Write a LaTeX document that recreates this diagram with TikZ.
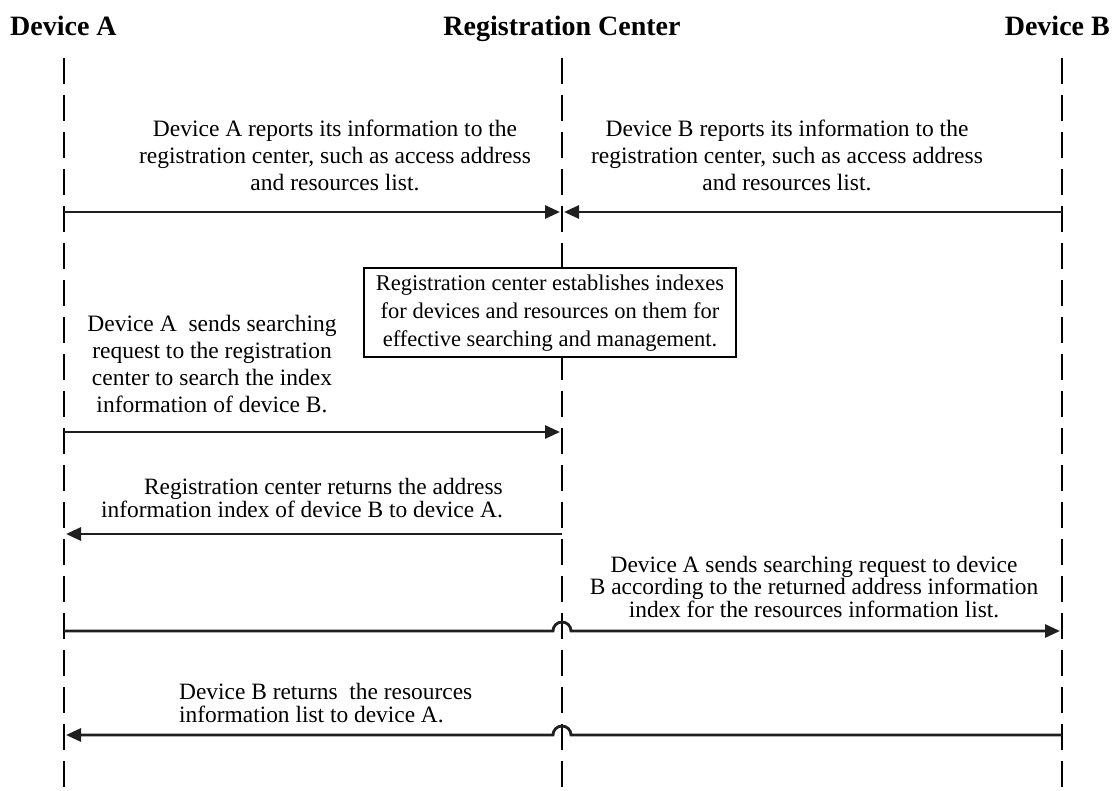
\documentclass[tikz,border=0pt]{standalone}
\usepackage{fontspec}
\setmainfont{Liberation Serif}
\usetikzlibrary{arrows.meta}
\tikzset{
  lifeline/.style={line width=2.2pt, dash pattern=on 26pt off 11pt},
  msg/.style={line width=2.8pt, black!88},
  msgtip/.style={-{Triangle[length=15pt,width=13pt]}},
  headtext/.style={font=\fontsize{28}{30}\selectfont\bfseries, inner sep=0pt},
  notetext/.style={font=\fontsize{23.5}{27}\selectfont, align=center, inner sep=0pt},
  tighttext/.style={font=\fontsize{23.4}{22.5}\selectfont, inner sep=0pt},
  notebox/.style={draw, line width=2pt, fill=white, minimum width=372pt, minimum height=89pt, inner sep=0pt, font=\fontsize{22.5}{28}\selectfont, align=center}
}

\begin{document}
\begin{tikzpicture}[x=1pt, y=-1pt]
			%%%%% START %%%%%
			\useasboundingbox (0,0) rectangle (1120,791);
			
			\node[headtext, anchor=base west] (devA) at (10,36) {Device A};
			\node[headtext, anchor=base] (regC) at (562,36) {Registration Center};
			\node[headtext, anchor=base east] (devB) at (1110,36) {Device B};
			
			\coordinate (laneA) at (64,58);
			\coordinate (laneR) at (562,58);
			\coordinate (laneB) at (1062,58);
			\coordinate (endA) at (64,791);
			\coordinate (endR) at (562,791);
			\coordinate (endB) at (1062,791);
			
			\draw[lifeline] (laneA) -- (endA);
			\draw[lifeline] (laneR) -- (endR);
			\draw[lifeline] (laneB) -- (endB);
			
			% registration
			\node[notetext] (repA) at (335,155) {Device A reports its information to the\\registration center, such as access address\\and resources list.};
			\node[notetext] (repB) at (787,155) {Device B reports its information to the\\registration center, such as access address\\and resources list.};
			\coordinate (m1) at (0,212);
			\draw[msg, msgtip] (laneA |- m1) -- ([xshift=-2pt]laneR |- m1);
			\draw[msg, msgtip] (laneB |- m1) -- ([xshift=2pt]laneR |- m1);
			
			\node[notebox] (index) at (550,313) {Registration center establishes indexes\\for devices and resources on them for\\effective searching and management.};
			
			% search index of device B
			\node[notetext] (askR) at (212,364) {Device A\ \ sends searching\\request to the registration\\center to search the index\\information of device B.};
			\coordinate (m3) at (0,432);
			\draw[msg, msgtip] (laneA |- m3) -- ([xshift=-2pt]laneR |- m3);
			
			\node[tighttext, align=right, anchor=east] (retR) at (503,498) {Registration center returns the address\\information index of device B to device A.};
			\coordinate (m4) at (0,534);
			\draw[msg, msgtip] (laneR |- m4) -- ([xshift=2pt]laneA |- m4);
			
			% direct request to device B
			\node[tighttext, align=center] (askB) at (814,587) {Device A sends searching request to device\\B according to the returned address information\\index for the resources information list.};
			\coordinate (m5) at (0,631);
			\draw[msg, msgtip] (laneA |- m5) -- ([xshift=-9pt]laneR |- m5) arc[start angle=180, end angle=0, radius=9pt] -- ([xshift=-2pt]laneB |- m5);
			
			\node[tighttext, align=left, anchor=west] (retB) at (179,703) {Device B returns\ \ the resources\\information list to device A.};
			\coordinate (m6) at (0,735);
			\draw[msg, msgtip] (laneB |- m6) -- ([xshift=9pt]laneR |- m6) arc[start angle=0, end angle=180, radius=9pt] -- ([xshift=2pt]laneA |- m6);
			%%%%% END %%%%%
\end{tikzpicture}
\end{document}
